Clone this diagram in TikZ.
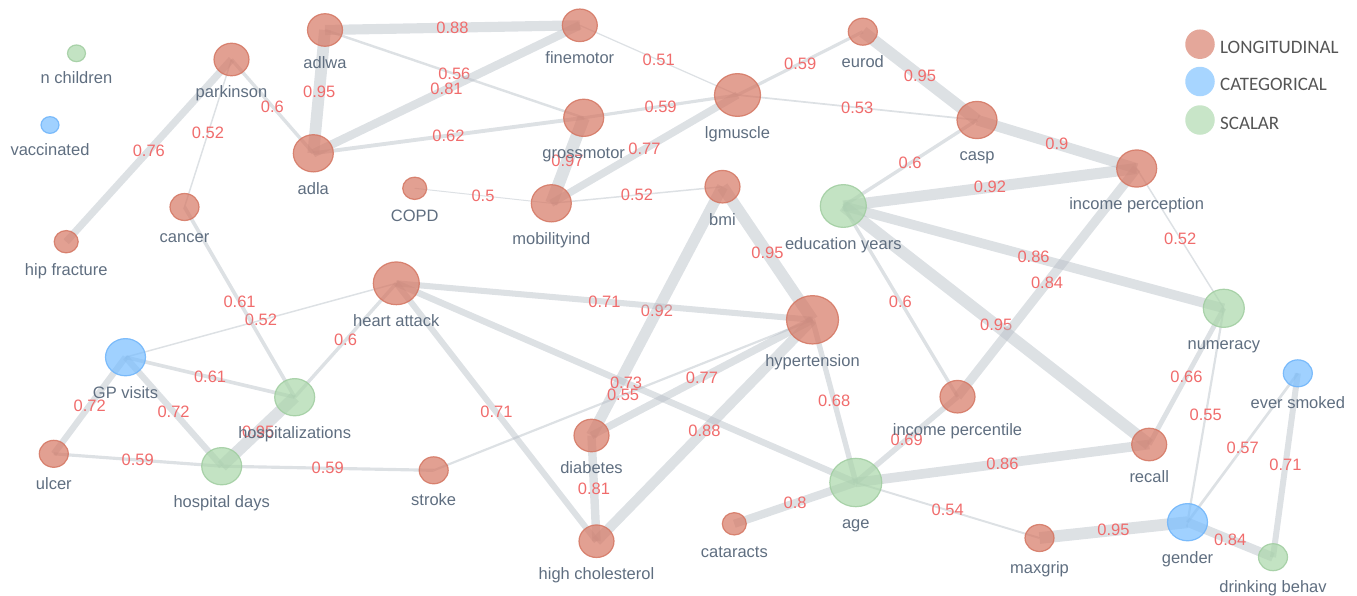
\documentclass[tikz,border=0pt]{standalone}
\usepackage{fontspec}
\setmainfont{Liberation Sans}
\newfontfamily\legfont{Carlito}
\usetikzlibrary{shapes.geometric,backgrounds}
\definecolor{lfill}{RGB}{214,120,100}
\definecolor{ldraw}{RGB}{212,118,98}
\definecolor{cfill}{RGB}{120,190,255}
\definecolor{cdraw}{RGB}{110,180,250}
\definecolor{sfill}{RGB}{170,215,170}
\definecolor{sdraw}{RGB}{160,205,160}
\definecolor{edgegray}{RGB}{180,188,196}
\definecolor{lblgray}{RGB}{95,110,128}
\definecolor{wred}{RGB}{240,108,108}
\definecolor{leggray}{RGB}{85,85,85}

\begin{document}
\begin{tikzpicture}[x=1pt, y=-1pt,
    vnode/.style={ellipse, inner sep=0pt, outer sep=0pt, line width=1.2pt, fill opacity=0.7, draw opacity=0.85},
    lnode/.style={vnode, fill=lfill, draw=ldraw},
    cnode/.style={vnode, fill=cfill, draw=cdraw},
    snode/.style={vnode, fill=sfill, draw=sdraw},
    rad/.style={minimum width={2*#1}, minimum height={1.86*#1}},
    nlbl/.style={font=\fontsize{16.5}{18}\selectfont, text=lblgray, fill opacity=1, text opacity=1,
      inner sep=0pt, text height=12pt, text depth=3.5pt, label distance=10pt},
    wlbl/.style={font=\fontsize{16.5}{18}\selectfont, text=wred, inner sep=0pt},
    ew/.style={draw=edgegray, draw opacity=0.45, line width={1+(#1-0.5)*24}},
    legdot/.style={circle, inner sep=0pt, minimum size=29.5pt, fill opacity=0.65},
    legtxt/.style={font=\legfont\fontsize{19}{22}\selectfont, text=leggray, inner sep=0pt, anchor=base west}]
  \useasboundingbox (0,0) rectangle (1357,595);

  \node[snode, rad=9, label={[nlbl]below:n children}] (nchildren) at (76.5,53.3) {};
  \node[cnode, rad=9, label={[nlbl]below:vaccinated}] (vaccinated) at (50,125) {};
  \node[lnode, rad=17.5, label={[nlbl]below:parkinson}] (parkinson) at (231.5,59.5) {};
  \node[lnode, rad=17.5, label={[nlbl]below:adlwa}] (adlwa) at (325,30) {};
  \node[lnode, rad=20, label={[nlbl]below:adla}] (adla) at (313.3,153.3) {};
  \node[lnode, rad=12, label={[nlbl]below:hip fracture}] (hipfrac) at (66.2,241.7) {};
  \node[lnode, rad=14.5, label={[nlbl]below:cancer}] (cancer) at (184.5,207) {};
  \node[lnode, rad=12, label={[nlbl]below:COPD}] (copd) at (414.7,188.3) {};
  \node[lnode, rad=17.5, label={[nlbl]below:finemotor}] (finemotor) at (579.8,25.3) {};
  \node[lnode, rad=20, label={[nlbl]below:grossmotor}] (grossmotor) at (583.7,117.8) {};
  \node[lnode, rad=20, label={[nlbl]below:mobilityind}] (mobility) at (551.3,203.3) {};
  \node[lnode, rad=23, label={[nlbl]below:lgmuscle}] (lgmuscle) at (737.5,95) {};
  \node[lnode, rad=14.5, label={[nlbl]below:eurod}] (eurod) at (862.8,31.7) {};
  \node[lnode, rad=17.5, label={[nlbl]below:bmi}] (bmi) at (722.5,186.7) {};
  \node[snode, rad=23, label={[nlbl]below:education years}] (eduyears) at (843.3,206) {};
  \node[lnode, rad=20, label={[nlbl]below:casp}] (casp) at (977,120) {};
  \node[lnode, rad=20, label={[nlbl]below:income perception}] (incperc) at (1136.7,168.5) {};
  \node[snode, rad=20.5, label={[nlbl]below:numeracy}] (numeracy) at (1223.8,308.3) {};
  \node[lnode, rad=23, label={[nlbl]below:heart attack}] (heartatt) at (396.3,283.3) {};
  \node[cnode, rad=20, label={[nlbl]below:GP visits}] (gpvisits) at (125.5,357.2) {};
  \node[snode, rad=20, label={[nlbl]below:hospitalizations}] (hospit) at (294.7,397.2) {};
  \node[lnode, rad=26, label={[nlbl]below:hypertension}] (hypert) at (812.5,319.8) {};
  \node[lnode, rad=14.5, label={[nlbl]below:ulcer}] (ulcer) at (53.8,453.8) {};
  \node[snode, rad=20, label={[nlbl]below:hospital days}] (hospdays) at (221.7,466.2) {};
  \node[lnode, rad=14.5, label={[nlbl]below:stroke}] (stroke) at (433.7,470.3) {};
  \node[lnode, rad=17.5, label={[nlbl]below:diabetes}] (diabetes) at (591.5,435.5) {};
  \node[lnode, rad=17.5, label={[nlbl]below:high cholesterol}] (highchol) at (596.5,541.2) {};
  \node[lnode, rad=12, label={[nlbl]below:cataracts}] (cataracts) at (734.3,523.8) {};
  \node[snode, rad=26, label={[nlbl]below:age}] (age) at (855.8,482.5) {};
  \node[lnode, rad=17.5, label={[nlbl]below:income percentile}] (incpct) at (957.5,396.7) {};
  \node[lnode, rad=17.5, label={[nlbl]below:recall}] (recall) at (1149.2,444.5) {};
  \node[lnode, rad=14.5, label={[nlbl]below:maxgrip}] (maxgrip) at (1039.5,538) {};
  \node[cnode, rad=20, label={[nlbl]below:gender}] (gender) at (1187.5,522.2) {};
  \node[cnode, rad=14.5, label={[nlbl]below:ever smoked}] (smoked) at (1297.8,373.3) {};
  \node[snode, rad=14.5, label={[nlbl]below:drinking behav}] (drinking) at (1273,557.2) {};

  \begin{pgfonlayer}{background}
    \draw[ew=0.88] (adlwa.center) -- node[wlbl]{0.88} (finemotor.center);
    \draw[ew=0.95] (adlwa.center) -- node[wlbl]{0.95} (adla.center);
    \draw[ew=0.56] (adlwa.center) -- node[wlbl]{0.56} (grossmotor.center);
    \draw[ew=0.81] (adla.center) -- node[wlbl]{0.81} (finemotor.center);
    \draw[ew=0.62] (adla.center) -- node[wlbl]{0.62} (grossmotor.center);
    \draw[ew=0.6] (parkinson.center) -- node[wlbl]{0.6} (adla.center);
    \draw[ew=0.76] (parkinson.center) -- node[wlbl]{0.76} (hipfrac.center);
    \draw[ew=0.52] (parkinson.center) -- node[wlbl]{0.52} (cancer.center);
    \draw[ew=0.51] (finemotor.center) -- node[wlbl]{0.51} (lgmuscle.center);
    \draw[ew=0.59] (grossmotor.center) -- node[wlbl]{0.59} (lgmuscle.center);
    \draw[ew=0.97] (grossmotor.center) -- node[wlbl]{0.97} (mobility.center);
    \draw[ew=0.77] (mobility.center) -- node[wlbl]{0.77} (lgmuscle.center);
    \draw[ew=0.5] (copd.center) -- node[wlbl]{0.5} (mobility.center);
    \draw[ew=0.52] (mobility.center) -- node[wlbl]{0.52} (bmi.center);
    \draw[ew=0.59] (lgmuscle.center) -- node[wlbl]{0.59} (eurod.center);
    \draw[ew=0.53] (lgmuscle.center) -- node[wlbl]{0.53} (casp.center);
    \draw[ew=0.95] (eurod.center) -- node[wlbl]{0.95} (casp.center);
    \draw[ew=0.9] (casp.center) -- node[wlbl]{0.9} (incperc.center);
    \draw[ew=0.6] (casp.center) -- node[wlbl]{0.6} (eduyears.center);
    \draw[ew=0.92] (eduyears.center) -- node[wlbl]{0.92} (incperc.center);
    \draw[ew=0.86] (eduyears.center) -- node[wlbl]{0.86} (numeracy.center);
    \draw[ew=0.95] (eduyears.center) -- node[wlbl]{0.95} (recall.center);
    \draw[ew=0.6] (eduyears.center) -- node[wlbl]{0.6} (incpct.center);
    \draw[ew=0.84] (incperc.center) -- node[wlbl]{0.84} (incpct.center);
    \draw[ew=0.52] (incperc.center) -- node[wlbl]{0.52} (numeracy.center);
    \draw[ew=0.66] (numeracy.center) -- node[wlbl]{0.66} (recall.center);
    \draw[ew=0.55] (numeracy.center) -- node[wlbl]{0.55} (gender.center);
    \draw[ew=0.95] (bmi.center) -- node[wlbl]{0.95} (hypert.center);
    \draw[ew=0.92] (bmi.center) -- node[wlbl]{0.92} (diabetes.center);
    \draw[ew=0.71] (heartatt.center) -- node[wlbl]{0.71} (hypert.center);
    \draw[ew=0.73] (heartatt.center) -- node[wlbl]{0.73} (age.center);
    \draw[ew=0.71] (heartatt.center) -- node[wlbl]{0.71} (highchol.center);
    \draw[ew=0.6] (heartatt.center) -- node[wlbl]{0.6} (hospit.center);
    \draw[ew=0.52] (heartatt.center) -- node[wlbl]{0.52} (gpvisits.center);
    \draw[ew=0.61] (cancer.center) -- node[wlbl]{0.61} (hospit.center);
    \draw[ew=0.61] (gpvisits.center) -- node[wlbl]{0.61} (hospit.center);
    \draw[ew=0.72] (gpvisits.center) -- node[wlbl]{0.72} (hospdays.center);
    \draw[ew=0.72] (gpvisits.center) -- node[wlbl]{0.72} (ulcer.center);
    \draw[ew=0.95] (hospit.center) -- node[wlbl]{0.95} (hospdays.center);
    \draw[ew=0.59] (ulcer.center) -- node[wlbl]{0.59} (hospdays.center);
    \draw[ew=0.59] (hospdays.center) -- node[wlbl]{0.59} (stroke.center);
    \draw[ew=0.55] (stroke.center) -- node[wlbl]{0.55} (hypert.center);
    \draw[ew=0.77] (diabetes.center) -- node[wlbl]{0.77} (hypert.center);
    \draw[ew=0.81] (diabetes.center) -- node[wlbl]{0.81} (highchol.center);
    \draw[ew=0.88] (highchol.center) -- node[wlbl]{0.88} (hypert.center);
    \draw[ew=0.68] (hypert.center) -- node[wlbl]{0.68} (age.center);
    \draw[ew=0.69] (age.center) -- node[wlbl]{0.69} (incpct.center);
    \draw[ew=0.86] (age.center) -- node[wlbl]{0.86} (recall.center);
    \draw[ew=0.8] (age.center) -- node[wlbl]{0.8} (cataracts.center);
    \draw[ew=0.54] (age.center) -- node[wlbl]{0.54} (maxgrip.center);
    \draw[ew=0.95] (maxgrip.center) -- node[wlbl]{0.95} (gender.center);
    \draw[ew=0.84] (gender.center) -- node[wlbl]{0.84} (drinking.center);
    \draw[ew=0.57] (gender.center) -- node[wlbl]{0.57} (smoked.center);
    \draw[ew=0.71] (smoked.center) -- node[wlbl]{0.71} (drinking.center);
  \end{pgfonlayer}

  \node[legdot, fill=lfill] (leglong) at (1200,44.2) {};
  \node[legdot, fill=cfill] (legcat) at (1200,81.5) {};
  \node[legdot, fill=sfill] (legscal) at (1200,120) {};
  \node[legtxt] (leglong-t) at ([xshift=5pt, yshift=-9.3pt]leglong.east) {LONGITUDINAL};
  \node[legtxt] (legcat-t) at ([xshift=5pt, yshift=-9.3pt]legcat.east) {CATEGORICAL};
  \node[legtxt] (legscal-t) at ([xshift=5pt, yshift=-9.3pt]legscal.east) {SCALAR};
\end{tikzpicture}
\end{document}
